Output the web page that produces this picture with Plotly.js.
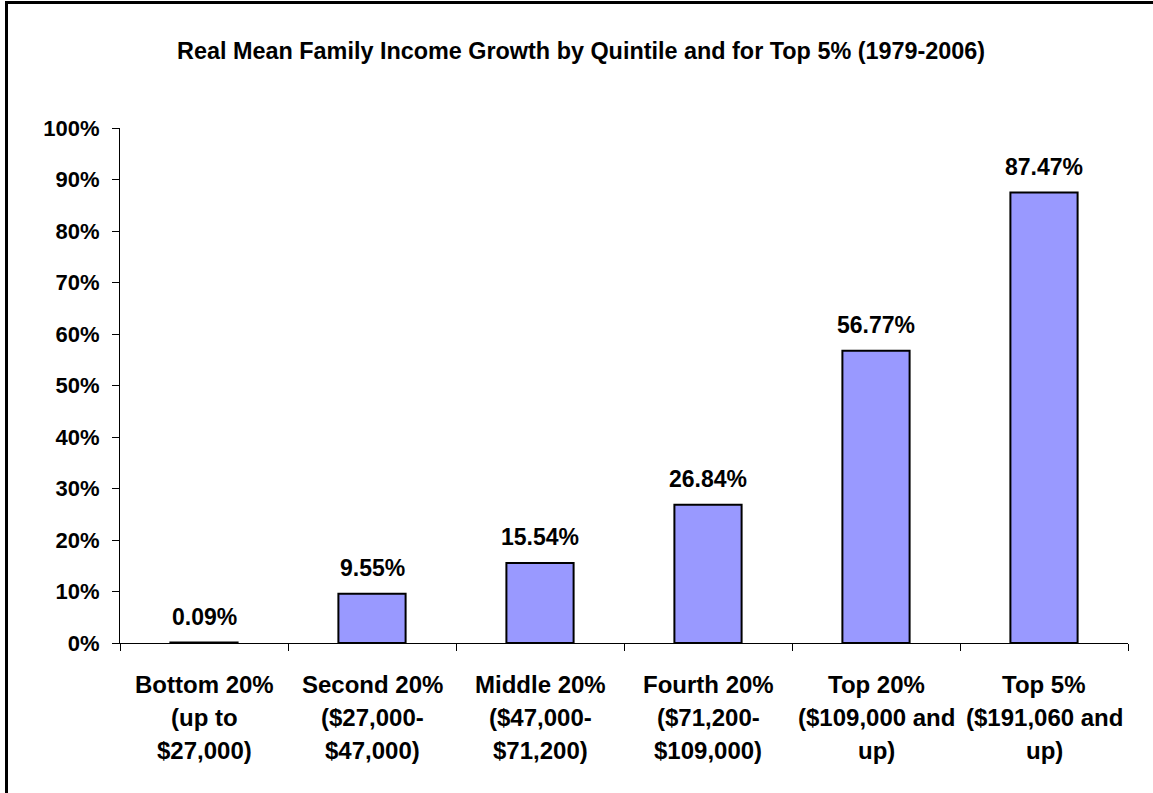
<!DOCTYPE html>
<html>
<head>
<meta charset="utf-8">
<script src="https://cdn.plot.ly/plotly-3.0.1.min.js"></script>
<style>
body { margin: 0; background: #fff; }
#frame { position: absolute; left: 5px; top: 1px; width: 1200px; height: 900px; border: 3px solid #000; }
#graph { position: absolute; left: 0; top: 0; width: 1153px; height: 793px; }
</style>
</head>
<body>
<div id="frame"></div>
<div id="graph"></div>
<script>
var categories = ["Bottom 20%", "Second 20%", "Middle 20%", "Fourth 20%", "Top 20%", "Top 5%"];
var categoryLines = [
    ["Bottom 20%", "(up to", "$27,000)"],
    ["Second 20%", "($27,000-", "$47,000)"],
    ["Middle 20%", "($47,000-", "$71,200)"],
    ["Fourth 20%", "($71,200-", "$109,000)"],
    ["Top 20%", "($109,000 and", "up)"],
    ["Top 5%", "($191,060 and", "up)"]
];
var growth = [0.09, 9.55, 15.54, 26.84, 56.77, 87.47];

var family = 'Liberation Sans, Arial, sans-serif';
function boldFont(size) {
    return {family: family, size: size, color: '#000', weight: 700};
}

function graficarCrecimiento() {
    var data = [
        {
            x: categories,
            y: growth,
            type: 'bar',
            width: 0.4,
            marker: {
                color: '#9999FF',
                line: {color: '#000', width: 2}
            },
            hoverinfo: 'none'
        }
    ];

    var annotations = [];
    for (var i = 0; i < categories.length; i++) {
        annotations.push({
            x: categories[i], y: growth[i], xref: 'x', yref: 'y',
            text: growth[i].toFixed(2) + '%', showarrow: false,
            yanchor: 'bottom', yshift: 11, font: boldFont(23)
        });
        for (var j = 0; j < categoryLines[i].length; j++) {
            annotations.push({
                x: categories[i], y: 0, xref: 'x', yref: 'paper',
                text: categoryLines[i][j], showarrow: false,
                yanchor: 'middle', yshift: -(41 + 33 * j), font: boldFont(24)
            });
        }
    }

    var layout = {
        width: 1153,
        height: 793,
        margin: {l: 120, r: 25, t: 128, b: 150},
        paper_bgcolor: 'rgba(0,0,0,0)',
        plot_bgcolor: 'rgba(0,0,0,0)',
        showlegend: false,
        title: {
            text: 'Real Mean Family Income Growth by Quintile and for Top 5% (1979-2006)',
            font: boldFont(23.4),
            x: 0.504, xref: 'container',
            y: 0.936, yanchor: 'middle'
        },
        xaxis: {
            type: 'category',
            showticklabels: false,
            ticks: 'outside',
            tickson: 'boundaries',
            ticklen: 7,
            tickcolor: '#000',
            showline: true,
            linecolor: '#000',
            linewidth: 1,
            showgrid: false,
            zeroline: false
        },
        yaxis: {
            range: [0, 100],
            dtick: 10,
            ticksuffix: '%',
            ticks: 'outside',
            ticklen: 7,
            tickcolor: '#000',
            ticklabelstandoff: 8,
            showline: true,
            linecolor: '#000',
            linewidth: 1,
            showgrid: false,
            zeroline: false,
            tickfont: boldFont(22)
        },
        annotations: annotations
    };

    Plotly.newPlot('graph', data, layout, {displayModeBar: false, staticPlot: true});
}

graficarCrecimiento();
</script>
</body>
</html>
